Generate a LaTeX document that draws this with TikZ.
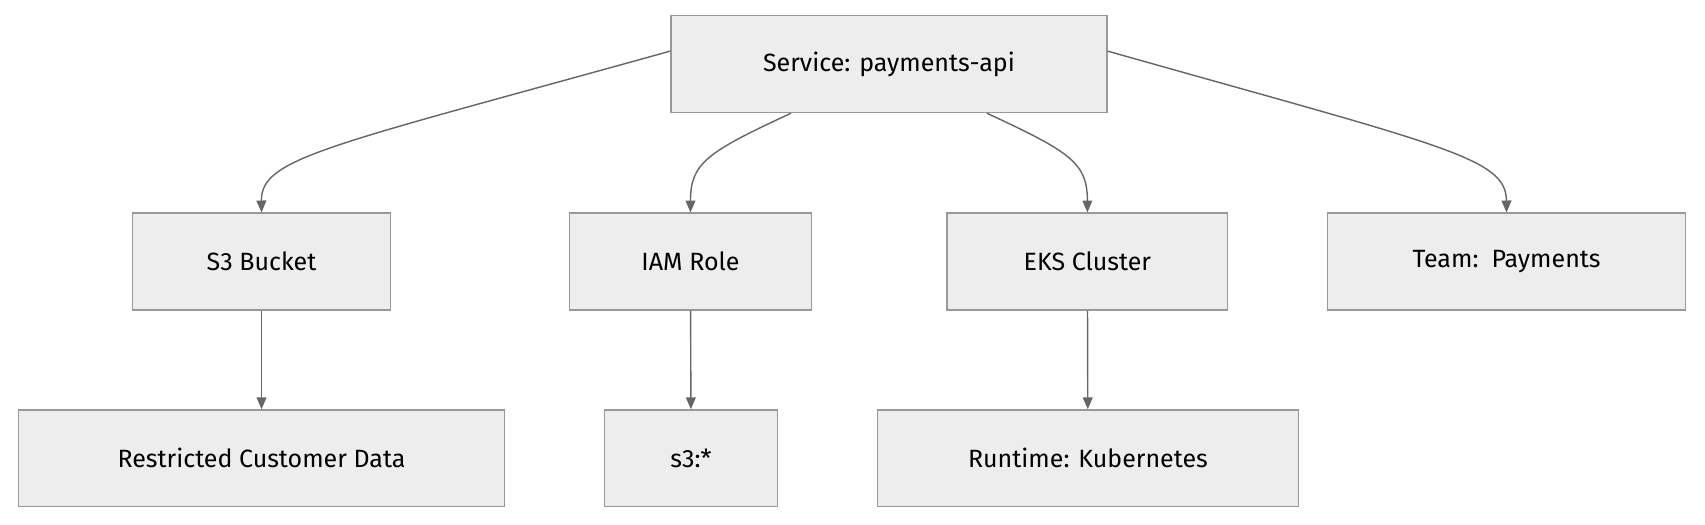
\documentclass[tikz,border=0pt]{standalone}
\usepackage{fontspec}
\setmainfont{Fira Sans}
\usetikzlibrary{arrows.meta}
\tikzset{box/.style={draw=black!40,fill=black!7,line width=1.2pt,minimum height=89pt,font=\fontsize{23}{26}\selectfont,inner sep=0pt},
  link/.style={draw=black!60,line width=1.3pt,-{Triangle[length=11pt,width=9pt]}}}
\begin{document}
\begin{tikzpicture}[x=1pt,y=-1pt]
          \useasboundingbox[fill=white] (0,0) rectangle (1568,482);
          \node[box,minimum width=401pt] (svc) at (817.5,59) {Service: payments-api}; %
          \node[box,minimum width=237pt] (bucket) at (240.5,240.5) {S3 Bucket};
          \node[box,minimum width=222pt] (role) at (635,240.5) {IAM Role};
          \node[box,minimum width=258pt] (eks) at (1000,240.5) {EKS Cluster};
          \node[box,minimum width=329pt] (team) at (1385.5,240.5) {Team:\, Payments};
          \node[box,minimum width=447pt] (data) at (240.5,421.5) {Restricted Customer Data};
          \node[box,minimum width=159pt] (perm) at (635.5,421.5) {s3:*};
          \node[box,minimum width=387pt] (runtime) at (1000.5,421.5) {Runtime: Kubernetes};
          % edges from the service
          \draw[link] ([yshift=12pt]svc.west) .. controls (300,135) and (240,145) .. (bucket.north);
          \draw[link] ([xshift=-90pt]svc.south) .. controls (650,140) and (635,150) .. (role.north);
          \draw[link] ([xshift=90pt]svc.south) .. controls (985,140) and (1000,150) .. (eks.north);
          \draw[link] ([yshift=12pt]svc.east) .. controls (1330,135) and (1385,145) .. (team.north);
          \draw[link] (bucket) -- (data);
          \draw[link] (role) -- (perm);
          \draw[link] (eks) -- (runtime);
\end{tikzpicture}
\end{document}
